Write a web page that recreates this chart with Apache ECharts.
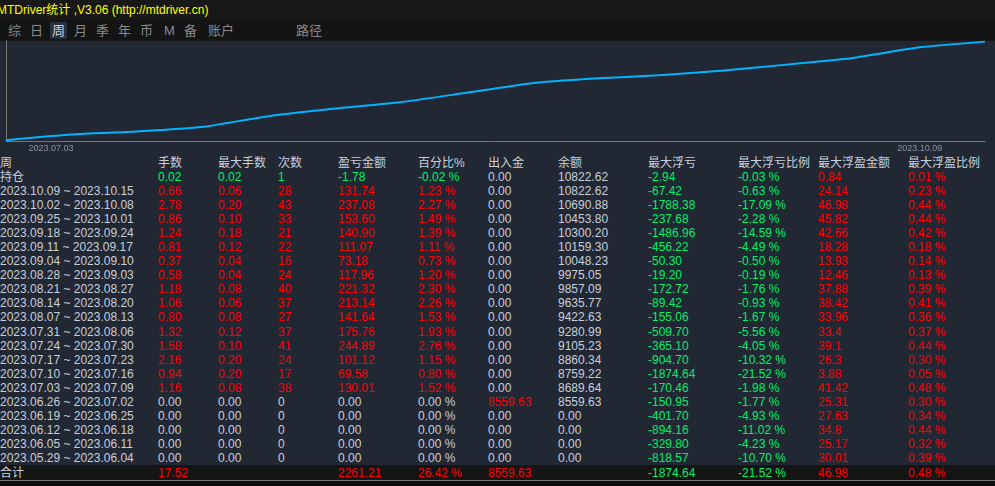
<!DOCTYPE html>
<html>
<head>
<meta charset="utf-8">
<script src="https://cdn.jsdelivr.net/npm/echarts@6/dist/echarts.min.js"></script>
<style>
  body { margin: 0; width: 995px; height: 486px; background: #212733; overflow: hidden;
         font-family: "Liberation Sans", "Noto Sans CJK SC", sans-serif; position: relative; }
  #title { position: absolute; left: 0; top: 0; width: 995px; height: 20px; background: #181818;
           color: #ffff00; font-size: 12px; line-height: 20px; text-indent: -3px; }
  #tabs { position: absolute; left: 0; top: 20px; width: 995px; height: 21px; background: #141414; }
  #tabs span { position: absolute; top: 2px; color: #8a8a8a; font-size: 13px; line-height: 17px; }
  #tabs span.on { background: #283040; color: #c8d0dc; padding: 0 2px; margin-left: -2px; }
  #chart { position: absolute; left: 0; top: 40px; width: 995px; height: 115px; }
  .c { position: absolute; font-size: 12px; line-height: 14px; white-space: nowrap; color: #c8d0dc; }
  #total { position: absolute; left: 0; top: 465px; width: 995px; height: 16px; background: #151515; }
  #foot { position: absolute; left: 0; top: 480px; width: 995px; height: 6px; background: #0c0c0c; border-top: 1px solid #777; }
</style>
</head>
<body>
<div id="title">MTDriver统计 ,V3.06 (http://mtdriver.cn)</div>
<div id="tabs"></div>
<div id="chart"></div>
<div id="total"></div>
<div id="foot"></div>
<script>
// 周统计数据（从新到旧）
const weeks = ["2023.10.09 ~ 2023.10.15","2023.10.02 ~ 2023.10.08","2023.09.25 ~ 2023.10.01","2023.09.18 ~ 2023.09.24",
  "2023.09.11 ~ 2023.09.17","2023.09.04 ~ 2023.09.10","2023.08.28 ~ 2023.09.03","2023.08.21 ~ 2023.08.27",
  "2023.08.14 ~ 2023.08.20","2023.08.07 ~ 2023.08.13","2023.07.31 ~ 2023.08.06","2023.07.24 ~ 2023.07.30",
  "2023.07.17 ~ 2023.07.23","2023.07.10 ~ 2023.07.16","2023.07.03 ~ 2023.07.09","2023.06.26 ~ 2023.07.02",
  "2023.06.19 ~ 2023.06.25","2023.06.12 ~ 2023.06.18","2023.06.05 ~ 2023.06.11","2023.05.29 ~ 2023.06.04"];
const lots = ["0.66","2.78","0.86","1.24","0.81","0.37","0.58","1.18","1.06","0.80","1.32","1.58","2.16","0.94","1.16","0.00","0.00","0.00","0.00","0.00"];
const maxLots = ["0.06","0.20","0.10","0.18","0.12","0.04","0.04","0.08","0.06","0.08","0.12","0.10","0.20","0.20","0.08","0.00","0.00","0.00","0.00","0.00"];
const counts = ["28","43","33","21","22","16","24","40","37","27","37","41","24","17","38","0","0","0","0","0"];
const pnl = ["131.74","237.08","153.60","140.90","111.07","73.18","117.96","221.32","213.14","141.64","175.76","244.89","101.12","69.58","130.01","0.00","0.00","0.00","0.00","0.00"];
const pct = ["1.23 %","2.27 %","1.49 %","1.39 %","1.11 %","0.73 %","1.20 %","2.30 %","2.26 %","1.53 %","1.93 %","2.76 %","1.15 %","0.80 %","1.52 %","0.00 %","0.00 %","0.00 %","0.00 %","0.00 %"];
const cash = ["0.00","0.00","0.00","0.00","0.00","0.00","0.00","0.00","0.00","0.00","0.00","0.00","0.00","0.00","0.00","8559.63","0.00","0.00","0.00","0.00"];
const balance = ["10822.62","10690.88","10453.80","10300.20","10159.30","10048.23","9975.05","9857.09","9635.77","9422.63","9280.99","9105.23","8860.34","8759.22","8689.64","8559.63","0.00","0.00","0.00","0.00"];
const maxDD = ["-67.42","-1788.38","-237.68","-1486.96","-456.22","-50.30","-19.20","-172.72","-89.42","-155.06","-509.70","-365.10","-904.70","-1874.64","-170.46","-150.95","-401.70","-894.16","-329.80","-818.57"];
const maxDDPct = ["-0.63 %","-17.09 %","-2.28 %","-14.59 %","-4.49 %","-0.50 %","-0.19 %","-1.76 %","-0.93 %","-1.67 %","-5.56 %","-4.05 %","-10.32 %","-21.52 %","-1.98 %","-1.77 %","-4.93 %","-11.02 %","-4.23 %","-10.70 %"];
const maxFP = ["24.14","46.98","45.82","42.66","18.28","13.93","12.46","37.88","38.42","33.96","33.4","39.1","26.3","3.88","41.42","25.31","27.63","34.8","25.17","30.01"];
const maxFPPct = ["0.23 %","0.44 %","0.44 %","0.42 %","0.18 %","0.14 %","0.13 %","0.39 %","0.41 %","0.36 %","0.37 %","0.44 %","0.30 %","0.05 %","0.48 %","0.30 %","0.34 %","0.44 %","0.32 %","0.39 %"];
const headers = ["周","手数","最大手数","次数","盈亏金额","百分比%","出入金","余额","最大浮亏","最大浮亏比例","最大浮盈金额","最大浮盈比例"];
const holdRow = ["持仓","0.02","0.02","1","-1.78","-0.02 %","0.00","10822.62","-2.94","-0.03 %","0.84","0.01 %"];
const totalRow = ["合计","17.52","","","2261.21","26.42 %","8559.63","","-1874.64","-21.52 %","46.98","0.48 %"];
const tabs = [["综",8],["日",30],["周",52],["月",74],["季",96],["年",118],["币",140],["M",164],["备",184],["账户",208],["路径",296]];

// 净值曲线（从 2023.07.03 起，按周）
const curveDates = ["2023.07.03","2023.07.10","2023.07.17","2023.07.24","2023.07.31","2023.08.07","2023.08.14","2023.08.21",
  "2023.08.28","2023.09.04","2023.09.11","2023.09.18","2023.09.25","2023.10.02","2023.10.09"];
const curveValues = [8559.63,8689.64,8759.22,8860.34,9105.23,9280.99,9422.63,9635.77,9857.09,9975.05,10048.23,10159.30,10300.20,10453.80,10690.88,10822.62];
const curveX = curveDates.concat(["end"]);

const RED = "#ff0000", GREEN = "#00ee66", GRAY = "#c8d0dc";
const colX = [0,158,218,278,338,418,488,558,648,738,818,908];

const tabBox = document.getElementById("tabs");
tabs.forEach(([t, x]) => {
  const s = document.createElement("span");
  s.textContent = t; s.style.left = x + "px";
  if (t === "周") s.className = "on";
  tabBox.appendChild(s);
});

function cell(text, col, y, color) {
  const d = document.createElement("div");
  d.className = "c"; d.textContent = text;
  d.style.left = colX[col] + "px"; d.style.top = y + "px"; d.style.color = color;
  document.body.appendChild(d);
}
function numColor(v) {
  const n = parseFloat(v);
  if (n > 0) return RED;
  if (n < 0) return GREEN;
  return GRAY;
}

headers.forEach((h, i) => cell(h, i, 156, GRAY));
holdRow.forEach((v, i) => {
  let c = GREEN;
  if (i === 0 || i === 6 || i === 7) c = GRAY;
  if (i >= 10) c = RED;
  cell(v, i, 170, c);
});
weeks.forEach((w, r) => {
  const y = 184 + r * 14.05;
  const row = [w, lots[r], maxLots[r], counts[r], pnl[r], pct[r], cash[r], balance[r], maxDD[r], maxDDPct[r], maxFP[r], maxFPPct[r]];
  row.forEach((v, i) => cell(v, i, y, i === 0 || i === 7 ? GRAY : numColor(v)));
});
totalRow.forEach((v, i) => cell(v, i, 466, i === 0 ? GRAY : numColor(v)));

const chart = echarts.init(document.getElementById("chart"));
chart.setOption({
  animation: false,
  grid: { left: 6, right: 10, top: 0, bottom: 14, outerBoundsMode: "none", containLabel: false },
  xAxis: {
    type: "category", data: curveX, boundaryGap: false,
    axisLine: { lineStyle: { color: "#777" } }, axisTick: { show: false },
    axisLabel: {
      color: "#8a94a6", fontSize: 9, margin: 3, hideOverlap: false,
      interval: (i) => i === 0 || i === curveDates.length - 1,
      formatter: (v, i) => (i === 0 ? "                                    " + v : v)
    }
  },
  yAxis: {
    type: "value", min: 8540, max: 10860,
    axisLine: { show: true, lineStyle: { color: "#777" } },
    axisLabel: { show: false }, axisTick: { show: false }, splitLine: { show: false }
  },
  series: [{
    type: "line", data: curveValues, smooth: 0.2, showSymbol: false,
    lineStyle: { color: "#00b4ff", width: 2 }
  }]
});
</script>
</body>
</html>
